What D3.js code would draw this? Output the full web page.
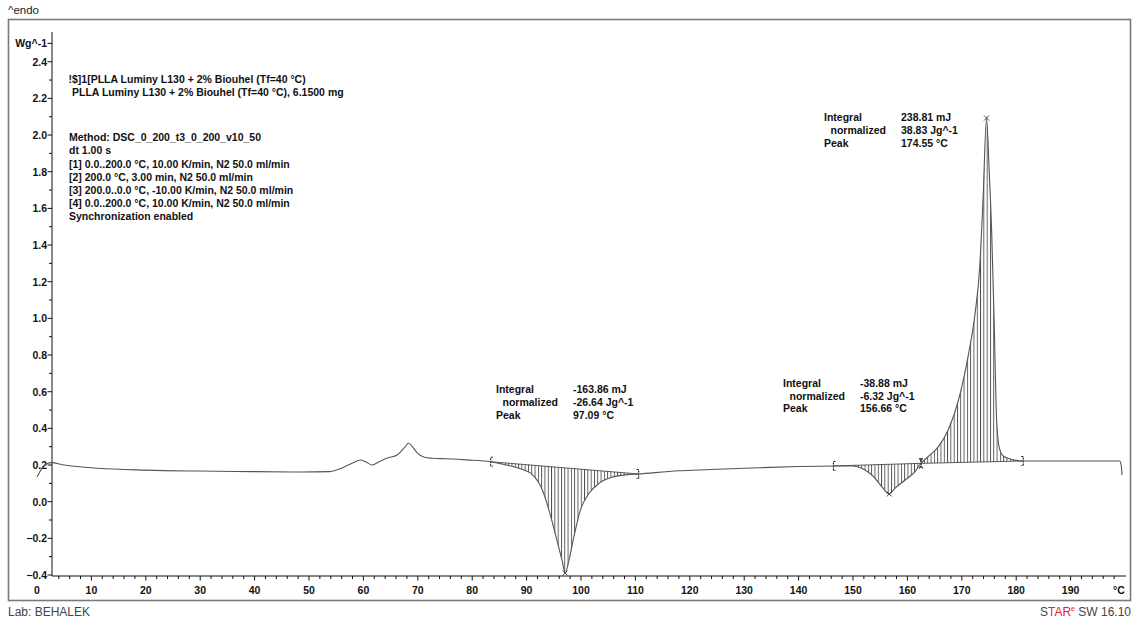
<!DOCTYPE html>
<html><head><meta charset="utf-8">
<script src="https://cdn.jsdelivr.net/npm/d3@7"></script>
<style>
body{margin:0;background:#fff;}
svg{display:block;font-family:"Liberation Sans",Arial,sans-serif;}
</style></head><body>
<svg id="c" width="1136" height="623"></svg>
<script>
// ---- data ----
const temps = [0, 1.1, 2.6, 5, 11.2, 20, 29.9, 40, 48.3, 53.8, 56.1, 58.0, 59.4, 60.5, 61.6, 62.9, 64.4, 66.2, 67.5, 68.3, 69.0, 69.9, 71.2, 72.7, 75.2, 79, 83.4, 86.2, 88.6, 91.1, 92.9, 94.1, 95.4, 96.5, 97.09, 97.8, 98.7, 99.9, 101.5, 103.3, 105.7, 108.2, 110.6, 118.0, 121.7, 132.7, 140, 146.4, 149.8, 152.2, 153.8, 155.3, 156.66, 157.7, 159.6, 161.4, 162.5, 163.8, 165.7, 167.5, 169.4, 171.2, 172.4, 173.3, 173.9, 174.55, 175.0, 175.5, 176.0, 176.4, 176.9, 177.6, 178.9, 181.3, 187.7, 195.0, 199.0, 199.3, 199.45];
const heatFlow = [0.135, 0.189, 0.213, 0.200, 0.182, 0.172, 0.167, 0.164, 0.162, 0.164, 0.184, 0.211, 0.227, 0.216, 0.200, 0.218, 0.238, 0.255, 0.293, 0.319, 0.300, 0.266, 0.242, 0.237, 0.234, 0.228, 0.218, 0.200, 0.182, 0.146, 0.064, -0.045, -0.191, -0.318, -0.389, -0.318, -0.191, -0.045, 0.046, 0.100, 0.133, 0.146, 0.151, 0.169, 0.173, 0.185, 0.192, 0.195, 0.195, 0.173, 0.136, 0.082, 0.042, 0.073, 0.118, 0.164, 0.209, 0.245, 0.300, 0.391, 0.555, 0.800, 1.018, 1.282, 1.646, 2.093, 1.828, 1.464, 0.919, 0.446, 0.293, 0.249, 0.233, 0.222, 0.222, 0.222, 0.222, 0.200, 0.146];

const xTickLabels = [0,10,20,30,40,50,60,70,80,90,100,110,120,130,140,150,160,170,180,190];
const yTickLabels = [-0.4,-0.2,0.0,0.2,0.4,0.6,0.8,1.0,1.2,1.4,1.6,1.8,2.0,2.2,2.4];
const xUnit = "°C";
const yUnit = "Wg^-1";

const intStart = [83.4, 146.4, 162.5];
const intEnd = [110.6, 162.5, 181.3];
const peakT = [97.09, 156.66, 174.55];
const intIntegral = ["-163.86 mJ", "-38.88 mJ", "238.81 mJ"];
const intNormalized = ["-26.64 Jg^-1", "-6.32 Jg^-1", "38.83 Jg^-1"];
const intPeak = ["97.09 °C", "156.66 °C", "174.55 °C"];

const headerLines = ["!$]1[PLLA Luminy L130 + 2% Biouhel (Tf=40 °C)", "PLLA Luminy L130 + 2% Biouhel (Tf=40 °C), 6.1500 mg"];
const methodLines = ["Method: DSC_0_200_t3_0_200_v10_50", "dt 1.00 s", "[1] 0.0..200.0 °C, 10.00 K/min, N2 50.0 ml/min", "[2] 200.0 °C, 3.00 min, N2 50.0 ml/min", "[3] 200.0..0.0 °C, -10.00 K/min, N2 50.0 ml/min", "[4] 0.0..200.0 °C, 10.00 K/min, N2 50.0 ml/min", "Synchronization enabled"];

// ---- layout ----
const svg = d3.select("#c");
const x = d3.scaleLinear().domain([0, 200]).range([37, 1125]);
const y = d3.scaleLinear().domain([-0.4, 2.5]).range([575, 43.4]);
const axisX = 52, axisY = 576, axisTop = 32, axisRight = 1126;
const pts = temps.map((t, i) => ({t, v: heatFlow[i]}));

// frame
svg.append("rect").attr("x", 8.5).attr("y", 19.5).attr("width", 1122).attr("height", 581)
  .attr("fill", "none").attr("stroke", "#7a7a7a").attr("stroke-width", 1.6);

svg.append("text").attr("x", 8).attr("y", 14).attr("font-size", 11.5).attr("fill", "#222").text("^endo");
svg.append("text").attr("x", 8).attr("y", 616).attr("font-size", 12).attr("fill", "#444").text("Lab: BEHALEK");
const st = svg.append("text").attr("x", 1131).attr("y", 616).attr("font-size", 12).attr("text-anchor", "end").attr("fill", "#444");
st.append("tspan").text("S");
st.append("tspan").attr("fill", "#e3262b").text("TAR");
st.append("tspan").attr("fill", "#e3262b").attr("font-size", 7).attr("dy", -5).text("e");
st.append("tspan").attr("dy", 5).text(" SW 16.10");

// hatch pattern
const defs = svg.append("defs");
const pat = defs.append("pattern").attr("id", "hatch").attr("patternUnits", "userSpaceOnUse")
  .attr("width", 3.3).attr("height", 20);
pat.append("line").attr("x1", 0.5).attr("x2", 0.5).attr("y1", 0).attr("y2", 20)
  .attr("stroke", "#111").attr("stroke-width", 0.75);

// y axis
const ax = svg.append("g").attr("fill", "#111").attr("font-weight", "bold").attr("font-size", 10.5);
ax.append("line").attr("x1", axisX).attr("x2", axisX).attr("y1", axisTop).attr("y2", axisY).attr("stroke", "#111");
ax.append("line").attr("x1", axisX).attr("x2", axisRight).attr("y1", axisY).attr("y2", axisY).attr("stroke", "#111");
const yMinor = d3.range(-3, 24, 2).map(d => d / 10);
ax.selectAll(".ymin").data(yMinor).join("line")
  .attr("x1", axisX - 3).attr("x2", axisX).attr("y1", d => y(d)).attr("y2", d => y(d)).attr("stroke", "#111");
ax.selectAll(".ymaj").data(yTickLabels.concat([2.5])).join("line")
  .attr("x1", axisX - 4.5).attr("x2", axisX).attr("y1", d => y(d)).attr("y2", d => y(d)).attr("stroke", "#111");
ax.selectAll(".ylab").data(yTickLabels).join("text")
  .attr("x", 47).attr("y", d => y(d) + 4).attr("text-anchor", "end").text(d => d3.format(".1f")(d));
ax.append("text").attr("x", 47).attr("y", y(2.5) + 4).attr("text-anchor", "end").text(yUnit);

// x axis
const xMinor = d3.range(4, 200, 2).filter(d => d % 10 !== 0);
ax.selectAll(".xmin").data(xMinor).join("line")
  .attr("x1", d => x(d)).attr("x2", d => x(d)).attr("y1", axisY).attr("y2", axisY + 3).attr("stroke", "#111");
ax.selectAll(".xmaj").data(xTickLabels.filter(d => x(d) > axisX)).join("line")
  .attr("x1", d => x(d)).attr("x2", d => x(d)).attr("y1", axisY).attr("y2", axisY + 4.5).attr("stroke", "#111");
ax.selectAll(".xlab").data(xTickLabels).join("text")
  .attr("x", d => x(d)).attr("y", 594).attr("text-anchor", "middle").text(d => d);
ax.append("text").attr("x", 1119).attr("y", 594).attr("text-anchor", "middle").text(xUnit);

// hatched integration areas
const valAt = t => pts.find(p => Math.abs(p.t - t) < 1e-9).v;
intStart.forEach((s, i) => {
  const e = intEnd[i];
  const vs = valAt(s), ve = valAt(e);
  const base = t => vs + (ve - vs) * (t - s) / (e - s);
  const seg = pts.filter(p => p.t >= s - 1e-9 && p.t <= e + 1e-9);
  const area = d3.area().x(p => x(p.t)).y0(p => y(base(p.t))).y1(p => y(p.v)).curve(d3.curveMonotoneX);
  svg.append("path").attr("d", area(seg)).attr("fill", "url(#hatch)").attr("stroke", "none");
  svg.append("line").attr("x1", x(s)).attr("x2", x(e)).attr("y1", y(vs)).attr("y2", y(ve))
    .attr("stroke", "#333").attr("stroke-width", 0.8);
  // brackets
  [[s, 1], [e, -1]].forEach(([t, dir]) => {
    const bx = x(t), by = y(valAt(t));
    svg.append("path").attr("d", `M${bx + 2 * dir},${by - 4.5}H${bx}V${by + 4.5}H${bx + 2 * dir}`)
      .attr("fill", "none").attr("stroke", "#111").attr("stroke-width", 1.1).attr("stroke-dasharray", "2,1");
  });
});

// curve
const line = d3.line().x(p => x(p.t)).y(p => y(p.v)).curve(d3.curveMonotoneX);
svg.append("path").attr("d", line(pts)).attr("fill", "none").attr("stroke", "#555").attr("stroke-width", 1.1);

// peak markers
peakT.forEach(t => {
  const px = x(t), py = y(valAt(t));
  svg.append("path").attr("d", `M${px - 2.5},${py - 2.5}L${px + 2.5},${py + 2.5}M${px - 2.5},${py + 2.5}L${px + 2.5},${py - 2.5}`)
    .attr("stroke", "#333").attr("stroke-width", 0.9);
});

// annotations
const tg = svg.append("g").attr("font-size", 10.5).attr("font-weight", "bold").attr("fill", "#111");
tg.append("text").attr("x", 68.5).attr("y", 83).text(headerLines[0]);
tg.append("text").attr("x", 72).attr("y", 96).text(headerLines[1]);
methodLines.forEach((l, i) => tg.append("text").attr("x", 69).attr("y", 141.3 + 13.1 * i).text(l));

const annX = [496, 783, 824], annVX = [573, 860, 901], annY = [393, 386.7, 121];
intIntegral.forEach((_, i) => {
  const lab = ["Integral", "  normalized", "Peak"];
  const vals = [intIntegral[i], intNormalized[i], intPeak[i]];
  lab.forEach((l, k) => {
    tg.append("text").attr("x", annX[i] + (k === 1 ? 6.5 : 0)).attr("y", annY[i] + 12.8 * k).text(l.trim());
    tg.append("text").attr("x", annVX[i]).attr("y", annY[i] + 12.8 * k).text(vals[k]);
  });
});
</script>
</body></html>
